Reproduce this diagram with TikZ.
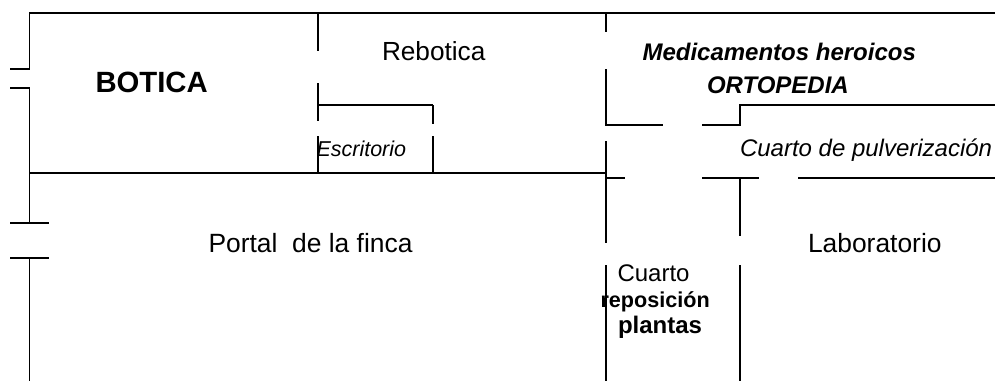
\documentclass[tikz,border=0pt]{standalone}
\usepackage{fontspec}
\setmainfont{Liberation Sans}
\newcommand{\sz}[1]{\fontsize{#1}{#1}\selectfont}
\tikzset{
	room/.style={anchor=base west, inner sep=0pt, outer sep=0pt},
	wall/.style={line width=1.2pt, black}
}

\begin{document}
\begin{tikzpicture}[x=1pt, y=-1pt]
\useasboundingbox (0,0) rectangle (995,383);
% outer walls and long corridors
\draw[wall] (10,69) -- (29.5,69) -- (29.5,13) -- (995,13);
\draw[wall] (10,88) -- (29.5,88) -- (29.5,223);
\draw[wall] (29.5,173) -- (606,173);
\draw[wall] (10,223) -- (49,223);
\draw[wall] (10,258) -- (49,258);
\draw[wall] (29.5,258) -- (29.5,381);
% partitions
\foreach \xa/\ya/\xb/\yb in {318/13/318/51, 318/83/318/121, 318/136/318/174, 433/105/433/124, 433/136/433/174, 606/13/606/32, 606/141/606/243, 606/265/606/381, 740/178/740/236, 740/265/740/381, 606/178/625/178, 702/178/759/178, 798/178/995/178} {
	\draw[wall] (\xa,\ya) -- (\xb,\yb);
}
\draw[wall] (318,105) -- (433,105);
\draw[wall] (606,69) -- (606,125) -- (663,125);
\draw[wall] (702,125) -- (740,125) -- (740,105) -- (995,105);
% rooms
\node[room] (botica) at (95.5,92.7) {\sz{29.3}\bfseries BOTICA};
\node[room] (rebotica) at (382,60) {\sz{26.2}Rebotica};
\node[room] (escritorio) at (316.5,156) {\sz{21.5}\itshape Escritorio};
\node[room] (heroicos) at (642.5,60) {\sz{24}\bfseries\itshape Medicamentos heroicos};
\node[room] (ortopedia) at (707,93) {\sz{24}\bfseries\itshape ORTOPEDIA};
\node[room] (pulverizacion) at (740,156) {\sz{24}\itshape Cuarto de pulverización};
\node[room] (portal) at (208.5,252.7) {\sz{26.4}Portal\ \ de la finca};
\node[room] (laboratorio) at (808,252.7) {\sz{26.4}Laboratorio};
\node[room] (cuarto) at (617.5,281) {\sz{24}Cuarto};
\node[room] (reposicion) at (600.5,307) {\sz{21.6}\bfseries reposición};
\node[room] (plantas) at (618,333) {\sz{24}\bfseries plantas};
\end{tikzpicture}
\end{document}
